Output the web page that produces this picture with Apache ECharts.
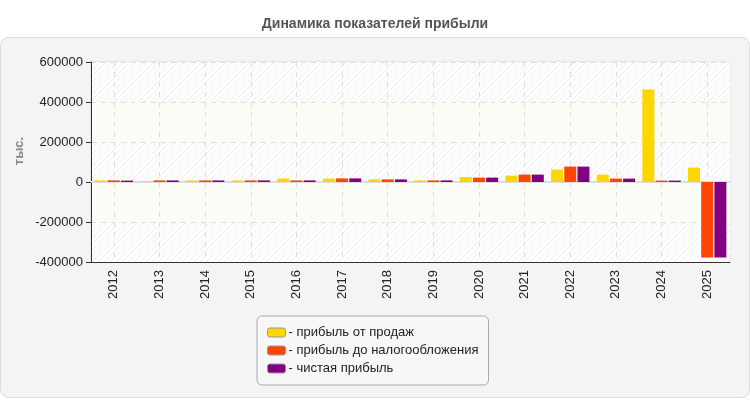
<!DOCTYPE html>
<html><head><meta charset="utf-8">
<script src="https://cdn.jsdelivr.net/npm/echarts@6/dist/echarts.min.js"></script>
<style>html,body{margin:0;padding:0;background:#fff}#c{width:750px;height:400px}</style>
</head><body><div id="c"></div>
<script>
const years = ['2012','2013','2014','2015','2016','2017','2018','2019','2020','2021','2022','2023','2024','2025'];
const salesProfit = [8000, 3000, 8000, 8000, 17000, 17000, 13000, 8000, 25000, 32000, 62000, 37000, 462000, 72000];
const preTaxProfit = [8000, 8000, 8000, 8000, 8000, 18000, 13000, 8000, 22000, 37000, 77000, 17000, 7000, -377000];
const netProfit = [7000, 8000, 8000, 8000, 8000, 18000, 13000, 8000, 22000, 37000, 77000, 17000, 7000, -377000];
const seriesNames = ['прибыль от продаж', 'прибыль до налогообложения', 'чистая прибыль'];
const seriesColors = ['#FFD700', '#FF4500', '#800080'];
const yTicks = {min: -400000, max: 600000, step: 200000};

// hatch pattern
const pc = document.createElement('canvas');
pc.width = 6; pc.height = 6;
const g = pc.getContext('2d');
g.fillStyle = '#ffffff'; g.fillRect(0,0,6,6);
g.strokeStyle = '#ececec'; g.lineWidth = 1;
g.beginPath();
g.moveTo(-1,7); g.lineTo(7,-1);
g.moveTo(-1,1); g.lineTo(1,-1);
g.moveTo(5,7); g.lineTo(7,5);
g.stroke();
const hatch = {image: pc, repeat: 'repeat'};

const chart = echarts.init(document.getElementById('c'), null, {renderer: 'canvas'});
const FF = '"Liberation Sans", Arial, sans-serif';
const data = [salesProfit, preTaxProfit, netProfit];
chart.setOption({
  animation: false,
  backgroundColor: '#ffffff',
  textStyle: {fontFamily: FF},
  graphic: [
    {type: 'rect', left: 0, top: 37, z: -10, shape: {width: 749, height: 360, r: 8},
     style: {fill: '#f4f4f4', stroke: '#dddddd', lineWidth: 1}},
    {type: 'text', x: 19, y: 151, rotation: Math.PI/2, z: 10,
     style: {text: 'тыс.', fill: '#888888', font: 'bold 13px ' + FF, align: 'center', verticalAlign: 'middle'}}
  ],
  title: {text: 'Динамика показателей прибыли', left: 'center', top: 12,
    textStyle: {fontSize: 14, fontWeight: 'bold', color: '#555555', fontFamily: FF}},
  grid: {left: 91, right: 20, top: 62, bottom: 138, show: true, borderColor: '#dddddd', borderWidth: 1, backgroundColor: 'transparent'},
  legend: {
    orient: 'vertical', left: 257, top: 316, padding: [10, 10, 10, 10], itemGap: 5,
    itemWidth: 18, itemHeight: 9, icon: 'roundRect',
    backgroundColor: '#f7f7f7', borderColor: '#aaaaaa', borderWidth: 1, borderRadius: 5,
    formatter: n => '- ' + n,
    itemStyle: {borderColor: '#999999', borderWidth: 1},
    textStyle: {fontSize: 13, color: '#222222', lineHeight: 13, fontFamily: FF, padding: [0, 0, 0, -2]},
    data: seriesNames
  },
  xAxis: [{
    type: 'category', data: years, boundaryGap: true,
    axisLine: {onZero: false, lineStyle: {color: '#333333', width: 1}},
    axisTick: {alignWithLabel: true, length: 5, lineStyle: {color: '#333333'}},
    axisLabel: {rotate: 90, fontSize: 13, color: '#222222', margin: 8, fontFamily: FF},
    splitLine: {show: true, alignWithLabel: true, lineStyle: {color: '#dddddd', type: [5, 5]}}
  }, {
    type: 'category', data: years, position: 'bottom',
    axisLine: {onZero: true, lineStyle: {color: '#dddddd', width: 2}},
    axisTick: {show: false}, axisLabel: {show: false}, splitLine: {show: false}
  }],
  yAxis: {
    type: 'value', min: yTicks.min, max: yTicks.max, interval: yTicks.step,
    axisLine: {show: true, lineStyle: {color: '#333333'}},
    axisTick: {show: true, length: 5, lineStyle: {color: '#333333'}},
    axisLabel: {fontSize: 13, color: '#222222', margin: 8, formatter: v => String(v), fontFamily: FF},
    splitLine: {show: true, lineStyle: {color: '#dddddd', type: [5, 5]}},
    splitArea: {show: true, areaStyle: {color: [hatch, '#fdfdf7']}}
  },
  series: seriesNames.map((n, i) => ({
    name: n, type: 'bar', data: data[i], barWidth: 12, barGap: '10%',
    itemStyle: {color: seriesColors[i]}
  }))
});
</script></body></html>
